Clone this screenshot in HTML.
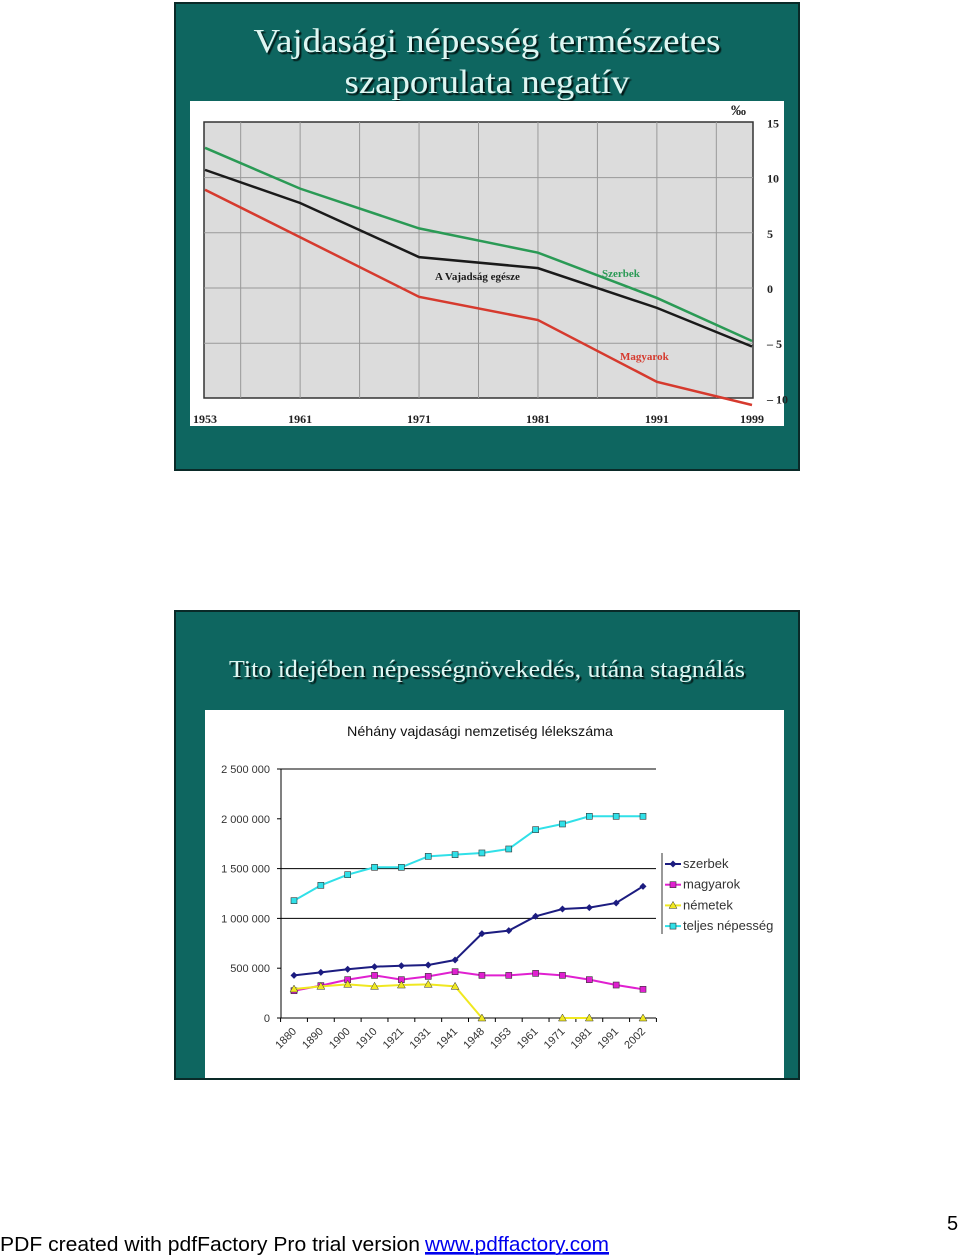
<!DOCTYPE html>
<html><head><meta charset="utf-8"><style>
html,body{margin:0;padding:0;background:#fff;width:960px;height:1257px;overflow:hidden}
svg{display:block}
text{font-family:"Liberation Sans",Arial,sans-serif}
.ser{font-family:"Liberation Serif","Times New Roman",serif}
</style></head><body>
<svg id="page" width="960" height="1257" viewBox="0 0 960 1257">
<defs>
<filter id="sh" x="-5%" y="-20%" width="110%" height="140%"><feDropShadow dx="2" dy="2" stdDeviation="0.6" flood-color="#000" flood-opacity="0.8"/></filter>
</defs>
<!-- Slide 1 -->
<g>
<rect x="175" y="3" width="624" height="467" fill="#0e6660" stroke="#0a2a28" stroke-width="2"/>
<text class="ser" x="487" y="52" text-anchor="middle" font-size="34" fill="#def6f2" filter="url(#sh)" textLength="467" lengthAdjust="spacingAndGlyphs">Vajdasági népesség természetes</text>
<text class="ser" x="487" y="93" text-anchor="middle" font-size="34" fill="#def6f2" filter="url(#sh)" textLength="285" lengthAdjust="spacingAndGlyphs">szaporulata negatív</text>
<rect x="190" y="101" width="594" height="325" fill="#fff"/>
<g id="chart1"></g>
</g>
<!-- Slide 2 -->
<g>
<rect x="175" y="611" width="624" height="468" fill="#0e6660" stroke="#0a2a28" stroke-width="2"/>
<text class="ser" x="487" y="677" text-anchor="middle" font-size="24" fill="#def6f2" filter="url(#sh)" textLength="516" lengthAdjust="spacingAndGlyphs">Tito idejében népességnövekedés, utána stagnálás</text>
<rect x="205" y="710" width="579" height="368" fill="#fff"/>
<g id="chart2"></g>
</g>
<text x="0" y="1251" font-size="20" fill="#000" textLength="420" lengthAdjust="spacingAndGlyphs">PDF created with pdfFactory Pro trial version</text>
<text x="425" y="1251" font-size="20" fill="#0000ee" text-decoration="underline" textLength="184" lengthAdjust="spacingAndGlyphs">www.pdffactory.com</text>
<line x1="425" y1="1254" x2="609" y2="1254" stroke="#0000ee" stroke-width="1.2"/>
<text x="947" y="1230" font-size="20" fill="#000">5</text>
</svg>
<script>
// ---------- Chart 1 data ----------
const years1 = [1953, 1961, 1971, 1981, 1991, 1999];
const serbs1 = [12.7, 9.0, 5.4, 3.2, -0.9, -4.8];
const total1 = [10.7, 7.7, 2.8, 1.8, -1.8, -5.3];
const hung1 = [8.9, 4.6, -0.8, -2.9, -8.5, -10.6];
const yTicks1 = [15, 10, 5, 0, -5, -10];
const yTickLabels1 = ['15', '10', '5', '0', '– 5', '– 10'];
const xTicks1 = [1953, 1961, 1971, 1981, 1991, 1999];

// ---------- Chart 2 data ----------
const cats2 = ['1880','1890','1900','1910','1921','1931','1941','1948','1953','1961','1971','1981','1991','2002'];
const szerbek = [428, 458, 489, 515, 525, 532, 582, 847, 877, 1021, 1094, 1108, 1155, 1322];
const magyarok = [274, 325, 385, 428, 385, 418, 465, 428, 428, 448, 428, 385, 331, 288];
const nemetek = [291, 318, 338, 318, 331, 338, 318, 0, null, null, 0, 0, null, 0];
const teljes = [1178, 1332, 1439, 1513, 1513, 1623, 1640, 1657, 1697, 1891, 1948, 2025, 2025, 2025];
const yTicks2 = [0, 500, 1000, 1500, 2000, 2500];
const yTickLabels2 = ['0', '500 000', '1 000 000', '1 500 000', '2 000 000', '2 500 000'];
const gridValues2 = [1000, 1500, 2500];
const legendNames2 = ['szerbek', 'magyarok', 'németek', 'teljes népesség'];

const NS = 'http://www.w3.org/2000/svg';
function mk(parent, tag, attrs, txt) {
  const e = document.createElementNS(NS, tag);
  for (const k in attrs) e.setAttribute(k, attrs[k]);
  if (txt !== undefined) e.textContent = txt;
  parent.appendChild(e);
  return e;
}

// ---------- Chart 1 ----------
(function () {
  const g = document.getElementById('chart1');
  const L = 204, R = 753, T = 122, B = 398;
  const X = y => 205 + (y - 1953) * (752 - 205) / (1999 - 1953);
  const Y = v => 288 - v * 11.04;
  const plot = mk(g, 'rect', {x: L, y: T, width: R - L, height: B - T, fill: '#dcdcdc', stroke: '#333', 'stroke-width': 1.5});
  
  
  const vx = [1956, 1966, 1976, 1986, 1996];
  vx.concat(xTicks1.slice(1, 5)).forEach(yr => {
    const l = mk(g, 'line', {x1: X(yr), x2: X(yr), y1: T, y2: B, stroke: '#999', 'stroke-width': 1});
    
    
  });
  yTicks1.forEach((v, i) => {
    if (v !== 15 && v !== -10) {
      const l = mk(g, 'line', {x1: L, x2: R, y1: Y(v), y2: Y(v), stroke: '#999', 'stroke-width': 1});
      
      
    }
    const t = mk(g, 'text', {x: 767, y: Y(v) + 5, 'font-size': 12, 'font-weight': 'bold', fill: '#222', class: 'ser'}, yTickLabels1[i]);
    
    
  });
  const pm = mk(g, 'text', {x: 731, y: 115, 'font-size': 15, 'font-weight': 'bold', fill: '#222', class: 'ser'}, '‰');
  
  
  xTicks1.forEach((yr, i) => {
    const t = mk(g, 'text', {x: X(yr) + (i === 0 ? 0 : 0), y: 423, 'font-size': 12, 'font-weight': 'bold', fill: '#222', class: 'ser', 'text-anchor': 'middle'}, String(yr));
    
    
  });
  const clip = mk(g, 'clipPath', {id: 'c1'});
  mk(clip, 'rect', {x: L, y: T, width: R - L + 2, height: B - T + 10});
  const series = [[serbs1, '#2a9a55', 'serbs-line'], [total1, '#1a1a1a', 'total-line'], [hung1, '#d63a2e', 'hungarians-line']];
  series.forEach(([vals, col, name]) => {
    const p = mk(g, 'polyline', {points: vals.map((v, i) => X(years1[i]) + ',' + Y(v)).join(' '), fill: 'none', stroke: col, 'stroke-width': 2.5, 'clip-path': 'url(#c1)'});
    
    
  });
  const labs = [['A Vajadság egésze', 435, 280, '#1a1a1a'], ['Szerbek', 602, 277, '#2a9a55'], ['Magyarok', 620, 360, '#d63a2e']];
  labs.forEach(([s, x, y, c]) => {
    const t = mk(g, 'text', {x: x, y: y, 'font-size': 11, 'font-weight': 'bold', fill: c, class: 'ser'}, s);
    
    
  });
})();

// ---------- Chart 2 ----------
(function () {
  const g = document.getElementById('chart2');
  const L = 281, R = 656, T = 769, B = 1018;
  const n = cats2.length;
  const X = i => 294 + i * (643 - 294) / (n - 1);
  const Y = v => B - v * (B - T) / 2500;
  const title = mk(g, 'text', {x: 480, y: 736, 'font-size': 14, fill: '#111', 'text-anchor': 'middle', textLength: 266, lengthAdjust: 'spacingAndGlyphs'}, 'Néhány vajdasági nemzetiség lélekszáma');
  
  
  gridValues2.forEach(v => {
    const l = mk(g, 'line', {x1: L, x2: R, y1: Y(v), y2: Y(v), stroke: '#000', 'stroke-width': 1});
    
    
  });
  const ax = mk(g, 'line', {x1: L, x2: L, y1: T, y2: B, stroke: '#000', 'stroke-width': 1});
  
  
  const xa = mk(g, 'line', {x1: L, x2: R, y1: B, y2: B, stroke: '#000', 'stroke-width': 1});
  
  
  yTicks2.forEach((v, i) => {
    mk(g, 'line', {x1: L - 4, x2: L, y1: Y(v), y2: Y(v), stroke: '#000'});
    const t = mk(g, 'text', {x: 270, y: Y(v) + 4, 'font-size': 11, fill: '#333', 'text-anchor': 'end'}, yTickLabels2[i]);
    
    
  });
  const step = (643 - 294) / (n - 1);
  for (let i = 0; i <= n; i++) {
    mk(g, 'line', {x1: 294 - step / 2 + i * step, x2: 294 - step / 2 + i * step, y1: B, y2: B + 4, stroke: '#000'});
  }
  cats2.forEach((c, i) => {
    const x = X(i) + 3, y = 1032;
    const t = mk(g, 'text', {x: x, y: y, 'font-size': 11, fill: '#333', 'text-anchor': 'end', transform: `rotate(-45 ${x} ${y})`}, c);
    
    
  });
  const series = [[szerbek, '#1c1c80', 'diamond', 'szerbek-line'], [magyarok, '#e020d0', 'square', 'magyarok-line'], [nemetek, '#f0e820', 'triangle', 'nemetek-line'], [teljes, '#30e0e8', 'square', 'teljes-line']];
  function marker(x, y, shape, col) {
    let m;
    if (shape === 'diamond') m = mk(g, 'polygon', {points: `${x},${y - 3.5} ${x + 3.5},${y} ${x},${y + 3.5} ${x - 3.5},${y}`, fill: col});
    else if (shape === 'triangle') m = mk(g, 'polygon', {points: `${x},${y - 4} ${x + 4},${y + 3} ${x - 4},${y + 3}`, fill: col, stroke: '#333', 'stroke-width': 0.5});
    else m = mk(g, 'rect', {x: x - 3, y: y - 3, width: 6, height: 6, fill: col, stroke: '#333', 'stroke-width': 0.6});
    return m;
  }
  series.forEach(([vals, col, shape, name]) => {
    let seg = [];
    const segs = [];
    vals.forEach((v, i) => {
      if (v === null) { if (seg.length) segs.push(seg); seg = []; }
      else seg.push(X(i) + ',' + Y(v));
    });
    if (seg.length) segs.push(seg);
    segs.forEach(s => {
      const p = mk(g, 'polyline', {points: s.join(' '), fill: 'none', stroke: col, 'stroke-width': 2});
      
      
    });
    vals.forEach((v, i) => {
      if (v === null) return;
      const m = marker(X(i), Y(v), shape, col);
      
      
    });
  });
  const lb = mk(g, 'line', {x1: 662, x2: 662, y1: 853, y2: 934, stroke: '#333'});
  
  
  legendNames2.forEach((nm, i) => {
    const y = 864 + i * 20.7;
    const [, col, shape] = series[i];
    mk(g, 'line', {x1: 665, x2: 681, y1: y, y2: y, stroke: col, 'stroke-width': 2});
    marker(673, y, shape, col);
    const t = mk(g, 'text', {x: 683, y: y + 4, 'font-size': 13, fill: '#333'}, nm);
    
    
  });
})();
</script>
</body></html>
